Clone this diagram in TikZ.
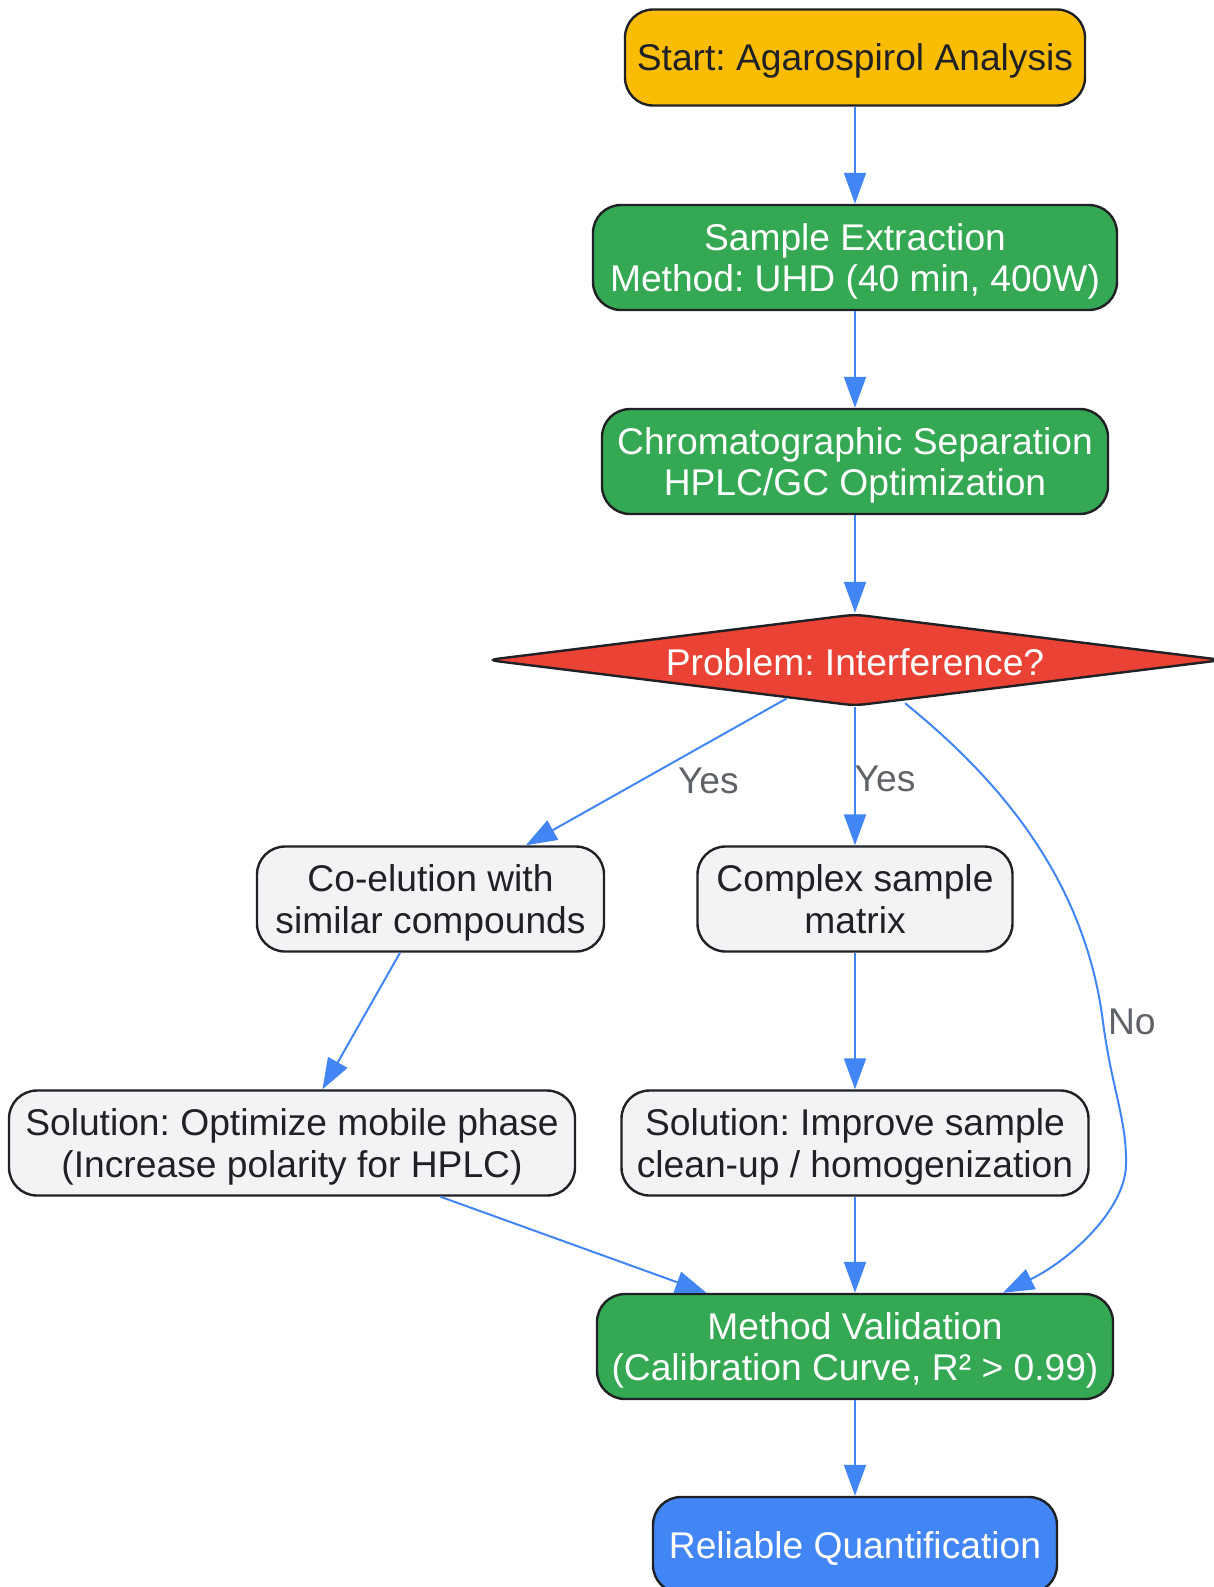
\documentclass[tikz,border=0pt]{standalone}
\usepackage{fontspec}
\setmainfont{Liberation Sans}
\usetikzlibrary{shapes.geometric,arrows.meta}
\definecolor{gyellow}{HTML}{FBBC04}
\definecolor{ggreen}{HTML}{34A853}
\definecolor{gred}{HTML}{EA4335}
\definecolor{gblue}{HTML}{4285F4}
\definecolor{ggray}{HTML}{F1F3F4}
\definecolor{ink}{HTML}{202124}
\definecolor{lblgray}{HTML}{5F6368}
\begin{document}
\frenchspacing
\begin{tikzpicture}[x=0.5pt, y=-0.5pt, font=\fontsize{18.6}{20.75}\selectfont,
box/.style={rectangle, rounded corners=14pt, draw=ink, line width=1.2pt, align=center, minimum height=52.5pt, inner sep=0pt, text depth=0pt},
startbox/.style={box, fill=gyellow, text=ink, minimum height=48pt},
stepbox/.style={box, fill=ggreen, text=white},
issuebox/.style={box, fill=ggray, text=ink},
endbox/.style={box, fill=gblue, text=white, minimum height=48pt},
decision/.style={diamond, aspect=8, draw=ink, line width=1.2pt, fill=gred, text=white, inner sep=0pt, minimum width=368pt, minimum height=46pt, rounded corners=5pt, execute at begin node={\rule{0pt}{15.6pt}}},
flow/.style={draw=gblue, line width=1pt, -{Triangle[length=15.5pt, width=11pt]}},
lbl/.style={text=lblgray, inner sep=0pt}]
\useasboundingbox (0,0) rectangle (1214,1587);

\node[startbox, minimum width=230pt] (start) at (855,57.5) {Start: Agarospirol Analysis};
\node[stepbox, minimum width=262pt] (extract) at (855,257.5) {Sample Extraction\\Method: UHD (40 min, 400W)};
\node[stepbox, minimum width=253pt] (chrom) at (855,461.5) {Chromatographic Separation\\HPLC/GC Optimization};
\node[decision] (interf) at (855,660) {Problem: Interference?};
\node[issuebox, minimum width=173.5pt] (coelute) at (430.5,899) {Co-elution with\\similar compounds};
\node[issuebox, minimum width=157.5pt] (matrix) at (855,899) {Complex sample\\matrix};
\node[issuebox, minimum width=283pt] (mobile) at (292,1143) {Solution: Optimize mobile phase\\(Increase polarity for HPLC)};
\node[issuebox, minimum width=233.5pt] (cleanup) at (855,1143) {Solution: Improve sample\\clean-up / homogenization};
\node[stepbox, minimum width=258pt] (valid) at (855,1346.5) {Method Validation\\(Calibration Curve, R² > 0.99)};
\node[endbox, minimum width=202pt] (quant) at (855,1545) {Reliable Quantification};

\draw[flow] (start) -- (extract);
\draw[flow] (extract) -- (chrom);
\draw[flow] (chrom) -- (interf);
\draw[flow] (interf) -- node[lbl, pos=0.3, yshift=-19pt] {Yes} (coelute);
\draw[flow] (interf) -- node[lbl, pos=0.52, xshift=15pt] {Yes} (matrix);
\draw[flow] ([xshift=25pt,yshift=2pt]interf.south) .. controls (1000,780) and (1085,880) .. (1103,1022) node[lbl, anchor=west, xshift=2pt] {No} .. controls (1112,1090) and (1127,1120) .. (1126,1165) .. controls (1125,1210) and (1070,1260) .. ([xshift=74pt]valid.north);
\draw[flow] (coelute) -- (mobile);
\draw[flow] (matrix) -- (cleanup);
\draw[flow] (mobile) -- (valid);
\draw[flow] (cleanup) -- (valid);
\draw[flow] (valid) -- (quant);
\end{tikzpicture}
\end{document}
